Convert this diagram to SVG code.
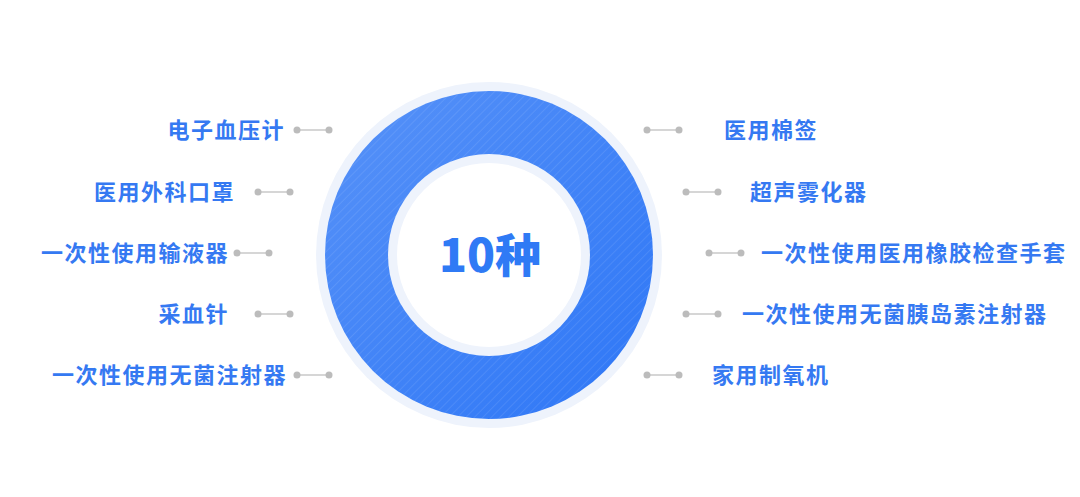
<svg xmlns="http://www.w3.org/2000/svg" width="1080" height="497" viewBox="0 0 1080 497">
<style>
.lbl{font-family:"Noto Sans CJK SC","Noto Sans",sans-serif;font-size:22px;font-weight:700;fill:#3579f2;letter-spacing:1.5px}
.l{text-anchor:end}
.ln{stroke:#c8c8c8;stroke-width:1.5}
.dt{fill:#bcbcbc}
</style>
<defs>
<linearGradient id="rg" x1="0" y1="0" x2="1" y2="1">
<stop offset="0" stop-color="#5792f8"/>
<stop offset="1" stop-color="#2d76f6"/>
</linearGradient>
<pattern id="st" width="6" height="6" patternUnits="userSpaceOnUse" patternTransform="rotate(45)">
<line x1="0.5" y1="0" x2="0.5" y2="6" stroke="#ffffff" stroke-opacity="0.09" stroke-width="1"/>
</pattern>
<g id="cn"><line class="ln" x1="0" y1="0" x2="32" y2="0"/><circle class="dt" cx="0" cy="0" r="3.5"/><circle class="dt" cx="32" cy="0" r="3.5"/></g>
</defs>
<rect width="1080" height="497" fill="#ffffff"/>
<g id="ring">
<circle cx="489" cy="255" r="173" fill="#eef3fc"/>
<circle cx="489" cy="255" r="164" fill="url(#rg)"/>
<circle cx="489" cy="255" r="164" fill="url(#st)"/>
<circle cx="489" cy="255" r="101" fill="#eef3fc"/>
<circle cx="489" cy="255" r="92" fill="#ffffff"/>
<text x="490" y="272" text-anchor="middle" font-family="'Noto Sans CJK SC','Noto Sans',sans-serif" font-size="46" font-weight="900" fill="#2f7af5">10种</text>
</g>
<g id="connectors">
<use href="#cn" x="297" y="130"/>
<use href="#cn" x="258" y="192"/>
<use href="#cn" x="237" y="253"/>
<use href="#cn" x="258" y="314"/>
<use href="#cn" x="297" y="375"/>
<use href="#cn" x="647" y="130"/>
<use href="#cn" x="686" y="192"/>
<use href="#cn" x="709" y="253"/>
<use href="#cn" x="686" y="314"/>
<use href="#cn" x="647" y="375"/>
</g>
<g id="n1"><text class="lbl l" x="285" y="138">电子血压计</text></g>
<g id="n2"><text class="lbl l" x="235" y="200">医用外科口罩</text></g>
<g id="n3"><text class="lbl l" x="229" y="261">一次性使用输液器</text></g>
<g id="n4"><text class="lbl l" x="229" y="322">采血针</text></g>
<g id="n5"><text class="lbl l" x="287" y="383">一次性使用无菌注射器</text></g>
<g id="n6"><text class="lbl" x="724" y="138">医用棉签</text></g>
<g id="n7"><text class="lbl" x="750" y="200">超声雾化器</text></g>
<g id="n8"><text class="lbl" x="761" y="261">一次性使用医用橡胶检查手套</text></g>
<g id="n9"><text class="lbl" x="742" y="322">一次性使用无菌胰岛素注射器</text></g>
<g id="n10"><text class="lbl" x="712" y="383">家用制氧机</text></g>
</svg>
